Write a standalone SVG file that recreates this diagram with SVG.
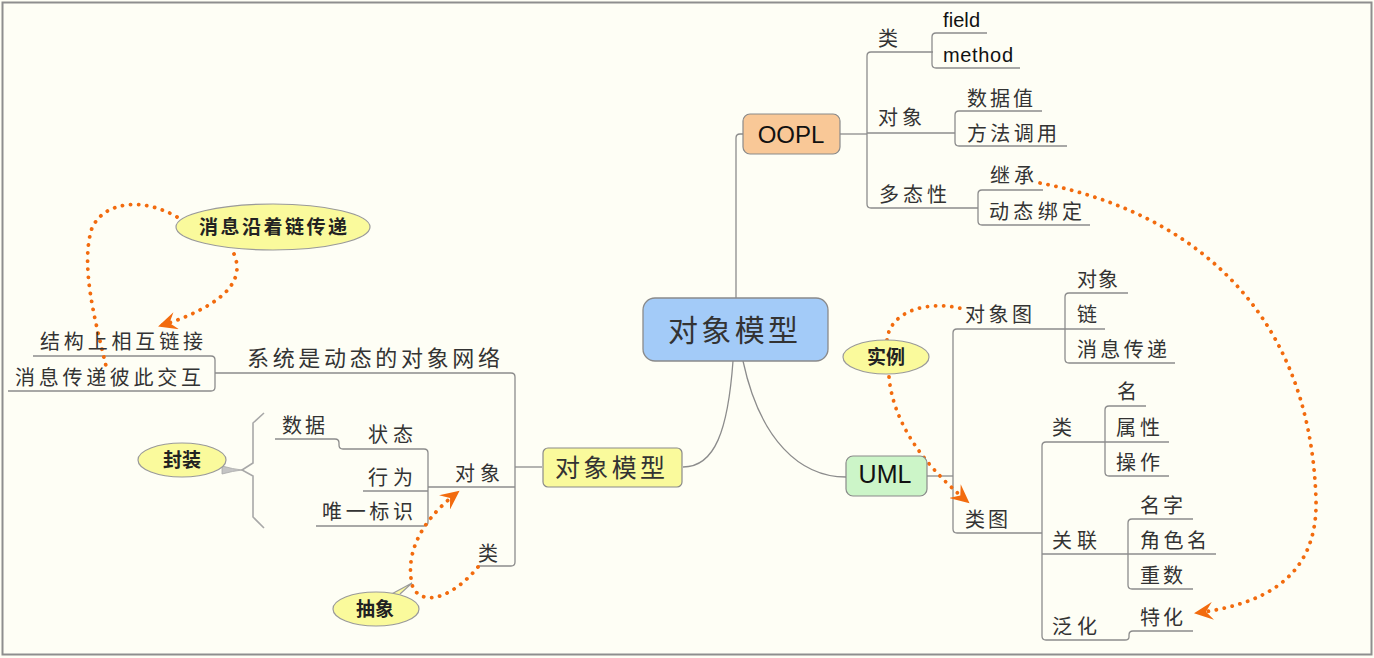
<svg xmlns="http://www.w3.org/2000/svg" width="1374" height="658" viewBox="0 0 1374 658">
<defs>
<style>
.t{font-family:"Noto Sans CJK SC","Liberation Sans",sans-serif;font-size:20px;fill:#333}
.lat{font-family:"Liberation Sans","Noto Sans CJK SC",sans-serif;fill:#111}
.b{font-family:"Noto Sans CJK SC",sans-serif;font-size:19px;font-weight:bold;fill:#222}
.ln{fill:none;stroke:#8c8c8c;stroke-width:1.3}
.dot{fill:none;stroke:#f26b0e;stroke-width:3.8;stroke-linecap:round;stroke-dasharray:0.1 8}
.bub{fill:#fafa9c;stroke:#9a9a9a;stroke-width:1.2}
</style>
<marker id="ah" markerUnits="userSpaceOnUse" markerWidth="20" markerHeight="18" refX="17" refY="9" orient="auto">
<path d="M0,0 L19,9 L0,18 L7,9 Z" fill="#f26b0e"/>
</marker>
</defs>
<rect x="0" y="0" width="1374" height="658" fill="#fefef5"/>
<rect x="2.5" y="2.5" width="1369" height="652" fill="none" stroke="#8e8e8e" stroke-width="2"/>

<g id="connectors">
<path class="ln" d="M736,298 V138 Q736,134 740,134 H743"/>
<path class="ln" d="M733,361 C728,430 715,467 683,467"/>
<path class="ln" d="M743,361 C760,440 800,477 846,477"/>
<path class="ln" d="M840,134 H867"/>
<path class="ln" d="M933,52 H871 Q867,52 867,56 V204 Q867,208 871,208 H978"/>
<path class="ln" d="M867,133 H955"/>
<path class="ln" d="M987,33 H936 Q932,33 932,37 V64 Q932,68 936,68 H1020"/>
<path class="ln" d="M1042,111 H959 Q955,111 955,115 V142 Q955,146 959,146 H1067"/>
<path class="ln" d="M1043,190 H982 Q978,190 978,194 V221 Q978,225 982,225 H1090"/>
<path class="ln" d="M927,476 H953"/>
<path class="ln" d="M1065,329 H957 Q953,329 953,333 V529 Q953,533 957,533 H1042"/>
<path class="ln" d="M1128,293 H1069 Q1065,293 1065,297 V359 Q1065,363 1069,363 H1175"/>
<path class="ln" d="M1065,329 H1105"/>
<path class="ln" d="M1105,442 H1046 Q1042,442 1042,446 V636 Q1042,640 1046,640 H1125 Q1129,640 1129,637 V635 Q1129,631 1133,631 H1193"/>
<path class="ln" d="M1042,554 H1128"/>
<path class="ln" d="M1146,406 H1109 Q1105,406 1105,410 V472 Q1105,476 1109,476 H1169"/>
<path class="ln" d="M1105,442 H1169"/>
<path class="ln" d="M1193,519 H1132 Q1128,519 1128,523 V585 Q1128,589 1132,589 H1193"/>
<path class="ln" d="M1128,554 H1216"/>
<path class="ln" d="M542,467 H515"/>
<path class="ln" d="M215,373 H511 Q515,373 515,377 V562 Q515,566 511,566 H478"/>
<path class="ln" d="M515,487 H428"/>
<path class="ln" d="M275,439 H335 Q339,439 339,443 V445 Q339,449 343,449 H424 Q428,449 428,453 V522 Q428,526 424,526 H316"/>
<path class="ln" d="M428,491 H363"/>
<path class="ln" d="M33,356 H211 Q215,356 215,360 V387 Q215,391 211,391 H8"/>
<path d="M264,413 L253,423 V463 L242,470 L253,476 V517 L264,528" fill="none" stroke="#a8a8a8" stroke-width="1.6"/>
<path d="M222,466 Q233,469 242,470 Q233,471 222,474 Z" fill="#c4c4c4" stroke="#a8a8a8" stroke-width="0.8"/>
<path class="dot" d="M177,217 C145,198 105,200 92,228 C80,265 95,320 106,366"/>
<path class="dot" d="M234,254 C246,282 222,306 160,326" marker-end="url(#ah)"/>
<path class="dot" d="M478,567 C455,595 425,608 413,588 C405,560 415,525 458,492" marker-end="url(#ah)"/>
<path class="dot" d="M887,340 C890,310 930,300 963,309"/>
<path class="dot" d="M889,377 C893,420 920,462 968,502" marker-end="url(#ah)"/>
<path class="dot" d="M1040,183 C1180,210 1310,300 1316,500 C1318,580 1260,605 1196,613" marker-end="url(#ah)"/>
</g>

<g id="center">
<rect x="643" y="298" width="185" height="63" rx="12" fill="#a3cbf8" stroke="#8a8a8a" stroke-width="1.3"/>
<text class="t" x="668" y="341" style="font-size:30px" textLength="130">对象模型</text>
</g>
<g id="oopl">
<rect x="743" y="114" width="97" height="40" rx="7" fill="#f9c897" stroke="#8a8a8a" stroke-width="1.2"/>
<text class="lat" x="791" y="143" font-size="24" text-anchor="middle">OOPL</text>
</g>
<g id="uml">
<rect x="846" y="456" width="81" height="40" rx="7" fill="#ccf5c8" stroke="#8a8a8a" stroke-width="1.2"/>
<text class="lat" x="885" y="483" font-size="25" text-anchor="middle">UML</text>
</g>
<g id="left-model">
<rect x="543" y="448" width="139" height="39" rx="5" fill="#fafa9c" stroke="#8a8a8a" stroke-width="1.2"/>
<text class="t" x="555" y="477" style="font-size:25px" textLength="110">对象模型</text>
</g>

<g id="oopl-class"><text class="t" x="878" y="46">类</text></g>
<g id="field"><text class="lat" x="943" y="27" font-size="20" fill="#222" textLength="37">field</text></g>
<g id="method"><text class="lat" x="943" y="62" font-size="20" fill="#222" textLength="70">method</text></g>
<g id="oopl-object"><text class="t" x="878" y="125" textLength="44">对象</text></g>
<g id="data-value"><text class="t" x="967" y="106" textLength="66">数据值</text></g>
<g id="method-call"><text class="t" x="967" y="141" textLength="90">方法调用</text></g>
<g id="poly"><text class="t" x="879" y="202" textLength="68">多态性</text></g>
<g id="inherit"><text class="t" x="990" y="183" textLength="44">继承</text></g>
<g id="dynbind"><text class="t" x="989" y="219" textLength="93">动态绑定</text></g>

<g id="objdiagram"><text class="t" x="965" y="322" textLength="67">对象图</text></g>
<g id="od-object"><text class="t" x="1077" y="287" textLength="41">对象</text></g>
<g id="od-link"><text class="t" x="1077" y="322">链</text></g>
<g id="od-msg"><text class="t" x="1077" y="357" textLength="90">消息传递</text></g>
<g id="classdiagram"><text class="t" x="965" y="527" textLength="43">类图</text></g>
<g id="cd-class"><text class="t" x="1052" y="435">类</text></g>
<g id="cd-name"><text class="t" x="1117" y="399">名</text></g>
<g id="cd-attr"><text class="t" x="1116" y="435" textLength="44">属性</text></g>
<g id="cd-op"><text class="t" x="1116" y="470" textLength="44">操作</text></g>
<g id="cd-assoc"><text class="t" x="1052" y="548" textLength="45">关联</text></g>
<g id="as-name"><text class="t" x="1140" y="513" textLength="43">名字</text></g>
<g id="as-role"><text class="t" x="1140" y="548" textLength="67">角色名</text></g>
<g id="as-mult"><text class="t" x="1140" y="583" textLength="43">重数</text></g>
<g id="cd-gen"><text class="t" x="1052" y="634" textLength="45">泛化</text></g>
<g id="cd-spec"><text class="t" x="1140" y="625" textLength="43">特化</text></g>

<g id="sysnet"><text class="t" x="247" y="366" style="font-size:22px" textLength="253">系统是动态的对象网络</text></g>
<g id="linked"><text class="t" x="40" y="349" textLength="163">结构上相互链接</text></g>
<g id="msginteract"><text class="t" x="15" y="385" textLength="186">消息传递彼此交互</text></g>
<g id="l-object"><text class="t" x="455" y="481" textLength="45">对象</text></g>
<g id="l-class"><text class="t" x="478" y="561">类</text></g>
<g id="data"><text class="t" x="282" y="433" textLength="43">数据</text></g>
<g id="state"><text class="t" x="368" y="442" textLength="45">状态</text></g>
<g id="behavior"><text class="t" x="368" y="485" textLength="45">行为</text></g>
<g id="identity"><text class="t" x="322" y="519" textLength="91">唯一标识</text></g>

<g id="callout-msgchain">
<ellipse class="bub" cx="273" cy="227" rx="97" ry="23"/>
<text class="b" x="273" y="234" text-anchor="middle" textLength="148">消息沿着链传递</text>
</g>
<g id="callout-encap">
<ellipse class="bub" cx="182" cy="460" rx="44" ry="17"/>
<text class="b" x="182" y="467" text-anchor="middle">封装</text>
</g>
<g id="callout-abstract">
<path d="M386,597 L412,583 L400,594" fill="#fafa9c" stroke="#9a9a9a" stroke-width="1.2"/>
<ellipse class="bub" cx="376" cy="609" rx="43" ry="17"/>
<text class="b" x="375" y="616" text-anchor="middle">抽象</text>
</g>
<g id="callout-instance">
<ellipse class="bub" cx="886" cy="357" rx="43" ry="17"/>
<text class="b" x="886" y="364" text-anchor="middle">实例</text>
</g>
</svg>
